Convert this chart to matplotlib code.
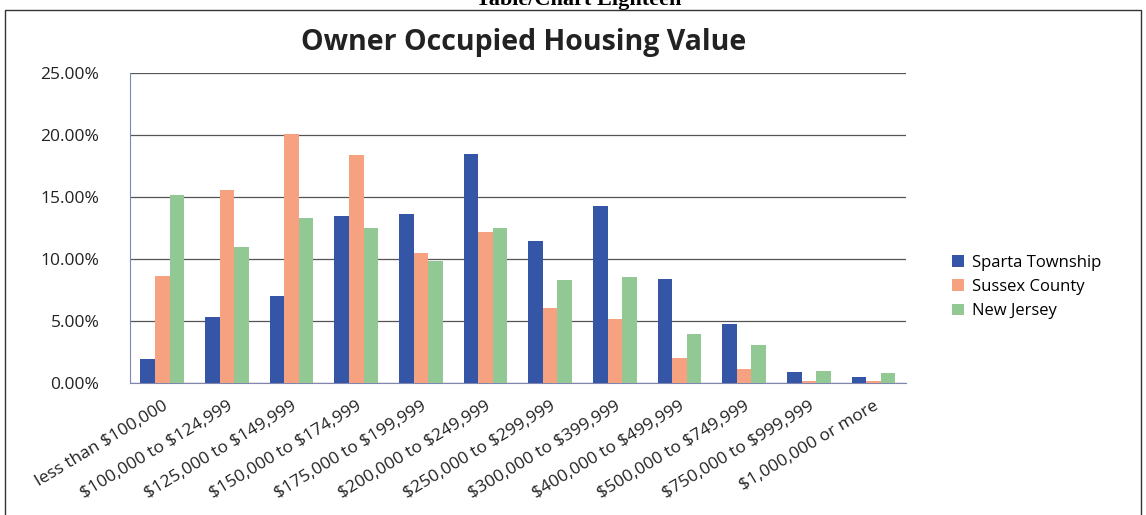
import numpy as np
import matplotlib
matplotlib.use("Agg")
import matplotlib.pyplot as plt
from matplotlib.patches import Rectangle
from matplotlib.ticker import FuncFormatter, MultipleLocator

# =========================================
# Data (percent of owner occupied units)
# =========================================

categories = [
    "less than $100,000",
    "$100,000 to $124,999",
    "$125,000 to $149,999",
    "$150,000 to $174,999",
    "$175,000 to $199,999",
    "$200,000 to $249,999",
    "$250,000 to $299,999",
    "$300,000 to $399,999",
    "$400,000 to $499,999",
    "$500,000 to $749,999",
    "$750,000 to $999,999",
    "$1,000,000 or more",
]

sparta = [1.9, 5.3, 7.0, 13.5, 13.65, 18.5, 11.45, 14.3, 8.4, 4.75, 0.85, 0.45]
sussex = [8.6, 15.6, 20.1, 18.35, 10.5, 12.2, 6.05, 5.15, 2.05, 1.15, 0.15, 0.2]
new_jersey = [15.2, 11.0, 13.3, 12.5, 9.85, 12.5, 8.3, 8.55, 3.95, 3.05, 0.95, 0.8]

series_names = ["Sparta Township", "Sussex County", "New Jersey"]
colors = ["#3556a6", "#f6a17f", "#92c893"]

FONT = ["Open Sans", "DejaVu Sans"]


def main() -> None:
    plt.rcParams["font.family"] = FONT
    plt.rcParams["text.parse_math"] = False

    fig = plt.figure(figsize=(11.46, 5.15), dpi=100)
    ax = fig.add_axes([0.1134, 0.2563, 0.677, 0.602])

    x = np.arange(len(categories))
    width = 0.225
    for i, (vals, name, col) in enumerate(zip([sparta, sussex, new_jersey], series_names, colors)):
        ax.bar(x + (i - 1) * width, vals, width, color=col, label=name, zorder=3)

    ax.set_xlim(-0.5, len(categories) - 0.5)
    ax.set_ylim(0, 25)
    ax.yaxis.set_major_locator(MultipleLocator(5))
    ax.yaxis.set_major_formatter(FuncFormatter(lambda v, _: f"{v:.2f}%"))
    ax.grid(axis="y", color="#555555", linewidth=0.9, zorder=0)

    ax.set_xticks(x)
    ax.set_xticklabels(categories, rotation=31, ha="right", rotation_mode="anchor",
                       fontsize=12.5, color="#222222")
    ax.tick_params(axis="y", labelsize=12.5, length=0, pad=22, labelcolor="#222222")
    ax.tick_params(axis="x", length=0, pad=11)

    for side in ["top", "right"]:
        ax.spines[side].set_visible(False)
    for side in ["left", "bottom"]:
        ax.spines[side].set_color("#7f86b0")
        ax.spines[side].set_linewidth(0.8)

    fig.text(0.457, 0.918, "Owner Occupied Housing Value", ha="center", va="center",
             fontsize=20.5, fontweight="bold", color="#222222")

    # header from the page, cut off at the top
    fig.text(0.505, 1.0, "Table/Chart Eighteen", ha="center", va="center",
             fontsize=16, fontweight="bold", family="Liberation Serif")

    # page frame around the chart
    fig.patches.append(Rectangle((5 / 1146, -0.05), 1136 / 1146, 1.05 - 10 / 515,
                                 transform=fig.transFigure, fill=False,
                                 edgecolor="#333333", linewidth=1.0))

    fig.legend(loc="center left", bbox_to_anchor=(0.818, 0.443), frameon=False,
               fontsize=12, handlelength=0.7, handleheight=0.7, handletextpad=0.5,
               labelspacing=0.5)

    fig.savefig("out.png", dpi=100)


if __name__ == "__main__":
    main()
